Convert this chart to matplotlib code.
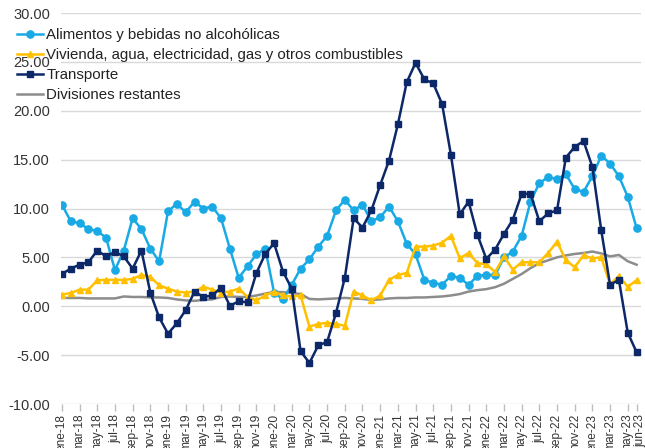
import matplotlib
matplotlib.use("Agg")
import matplotlib.pyplot as plt
import matplotlib.transforms as mtransforms
import numpy as np

plt.rcParams['font.family'] = ['Liberation Sans', 'DejaVu Sans']

meses = ["ene", "feb", "mar", "abr", "may", "jun", "jul", "ago", "sep", "oct", "nov", "dic"]
periodos = [f"{meses[m]}-{y}" for y in range(18, 24) for m in range(12)][:66]

alimentos = [10.4, 8.7, 8.5, 7.9, 7.7, 7.0, 3.7, 5.7, 9.0, 7.9, 5.9, 4.6,
             9.7, 10.5, 9.6, 10.7, 10.0, 10.2, 9.0, 5.9, 2.9, 4.1, 5.3, 5.9,
             1.4, 0.7, 2.2, 3.85, 4.8, 6.1, 7.2, 9.8, 10.9, 9.8, 10.4, 8.7,
             9.1, 10.2, 8.7, 6.4, 5.3, 2.7, 2.4, 2.2, 3.1, 2.9, 2.2, 3.1,
             3.2, 3.2, 5.0, 5.6, 7.2, 10.7, 12.6, 13.2, 13.0, 13.5, 12.0, 11.7,
             13.3, 15.4, 14.6, 13.3, 11.2, 8.0]

vivienda = [1.2, 1.35, 1.7, 1.7, 2.65, 2.7, 2.7, 2.7, 2.8, 3.2, 3.0, 2.15,
            1.8, 1.5, 1.4, 1.5, 2.0, 1.7, 1.4, 1.5, 1.8, 0.95, 0.6, 1.1,
            1.5, 1.1, 1.0, 1.1, -2.1, -1.8, -1.7, -1.8, -2.0, 1.5, 1.1, 0.6,
            1.1, 2.7, 3.2, 3.4, 6.1, 6.1, 6.2, 6.5, 7.2, 4.9, 5.45, 4.4,
            4.3, 3.5, 5.1, 3.75, 4.5, 4.5, 4.5, 5.45, 6.6, 4.7, 4.0, 5.2,
            4.9, 5.0, 2.25, 3.1, 2.0, 2.65]

transporte = [3.3, 3.85, 4.25, 4.5, 5.7, 5.1, 5.55, 5.1, 3.85, 5.7, 1.4, -1.15,
              -2.8, -1.75, -0.4, 1.5, 0.95, 1.1, 1.9, 0.05, 0.5, 0.4, 3.4, 5.35,
              6.45, 3.55, 1.8, -4.6, -5.8, -4.0, -3.65, -0.7, 2.9, 9.0, 8.05, 9.8,
              12.4, 14.9, 18.6, 22.9, 24.9, 23.2, 22.8, 20.7, 15.5, 9.4, 10.7, 7.3,
              4.85, 5.8, 7.4, 8.85, 11.5, 11.5, 8.7, 9.5, 9.8, 15.2, 16.3, 16.9,
              14.25, 7.8, 2.2, 2.7, -2.7, -4.7]

restantes = [0.85, 0.85, 0.85, 0.8, 0.8, 0.8, 0.8, 1.0, 0.95, 0.95, 0.9, 0.9,
             0.85, 0.7, 0.6, 0.55, 0.65, 0.7, 0.95, 1.0, 0.95, 0.95, 1.1, 1.3,
             1.45, 1.45, 1.35, 1.25, 0.75, 0.7, 0.75, 0.8, 0.85, 0.8, 0.75, 0.65,
             0.7, 0.8, 0.85, 0.85, 0.9, 0.9, 0.95, 1.0, 1.1, 1.25, 1.5, 1.65,
             1.75, 1.95, 2.3, 2.8, 3.3, 3.9, 4.4, 4.7, 5.0, 5.2, 5.35, 5.45,
             5.6, 5.4, 5.1, 5.25, 4.6, 4.25]

series_labels = ["Alimentos y bebidas no alcohólicas",
                 "Vivienda, agua, electricidad, gas y otros combustibles",
                 "Transporte",
                 "Divisiones restantes"]

W, H = 645, 448
fig = plt.figure(figsize=(W / 100, H / 100), dpi=100)
ax = fig.add_axes([61 / W, (H - 404) / H, 580 / W, 391 / H])

x = np.arange(len(periodos))
c_blue = "#19AAE6"
c_yellow = "#FFC000"
c_navy = "#0C2868"
c_gray = "#8C8C8C"

h1, = ax.plot(x, alimentos, color=c_blue, lw=1.8, marker="o", ms=5.2, zorder=3)
h2, = ax.plot(x, vivienda, color=c_yellow, lw=1.8, marker="^", ms=4.2, zorder=3)
h3, = ax.plot(x, transporte, color=c_navy, lw=1.8, marker="s", ms=5.0, zorder=4)
h4, = ax.plot(x, restantes, color=c_gray, lw=1.8, zorder=2)

ax.set_xlim(-0.1, 65.5)
ax.set_ylim(-10, 30)
yt = np.arange(-10, 31, 5)
ax.set_yticks(yt)
ax.set_yticklabels([f"{v:.2f}" for v in yt])
ax.grid(axis="y", color="#D9D9D9", lw=1.0)
ax.set_axisbelow(True)
for s in ax.spines.values():
    s.set_visible(False)

xt = list(range(0, 65, 2)) + [65]
ax.set_xticks(xt)
ax.set_xticklabels([periodos[i] for i in xt], rotation=90, fontsize=8.6, color="#333333")
ax.tick_params(axis="x", length=5, color="#BFBFBF", width=1, pad=2)
ax.tick_params(axis="y", length=0, pad=8, labelsize=10.5, labelcolor="#333333")

# nudge the last label so it sits beside "may-23" as in the reference
last = ax.get_xticklabels()[-1]
last.set_transform(last.get_transform() + mtransforms.ScaledTranslation(4 / 100, 0, fig.dpi_scale_trans))
prev = ax.get_xticklabels()[-2]
prev.set_transform(prev.get_transform() + mtransforms.ScaledTranslation(-1 / 100, 0, fig.dpi_scale_trans))

fig.legend([h1, h2, h3, h4], series_labels,
           loc="upper left", bbox_to_anchor=(17 / W, 1 - 28 / H),
           frameon=False, fontsize=10.8, handlelength=1.75, handletextpad=0.2,
           labelspacing=0.4, borderpad=0, borderaxespad=0, labelcolor="#222222")

fig.savefig("out.png", dpi=100)
